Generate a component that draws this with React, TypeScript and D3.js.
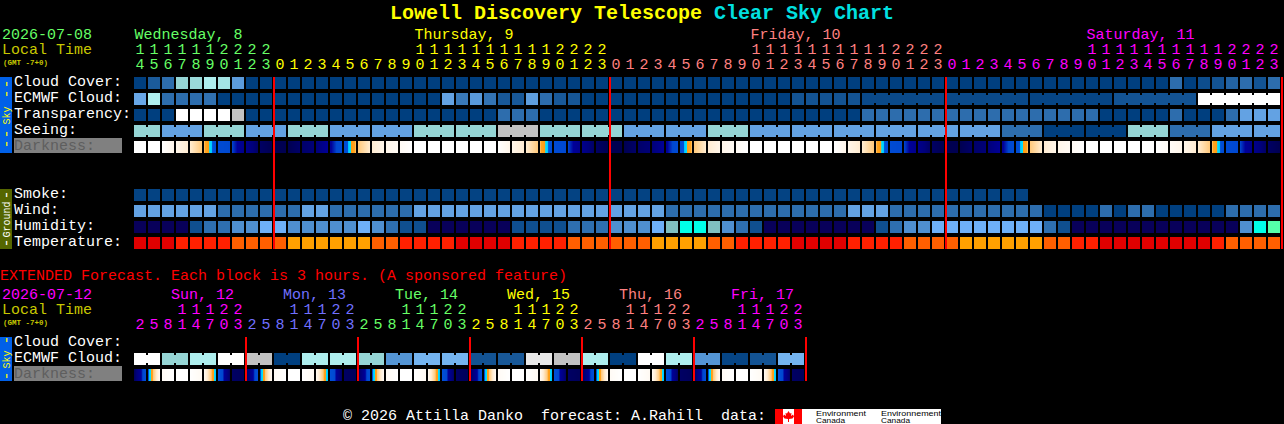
import {useEffect, useRef} from "react";
import * as d3 from "d3";

const MONO = "'Liberation Mono', monospace";

// cloud-style levels, 0 = clear ... 10 = overcast
const cloudCover = [0, 1.3, 2, 6, 6.2, 7, 6.6, 3.7, 0, 0, 0, 0, 0, 0, 0, 0, 0, 0, 0, 0, 0, 0, 0, 0, 0, 0, 0, 0, 0, 0, 0, 0, 0, 0, 0, 0, 0, 0, 0, 0, 0, 0, 0, 0, 0, 0, 0, 0, 0, 0, 0, 0, 0, 0, 0, 0, 0, 0, 0, 0, 0, 0, 0, 0, 0, 0, 0, 0, 0, 0, 0, 0, 0, 0, 2, 0, 0.7, 1, 1.6, 2, 1, 2];
const ecmwfHourly = [4.3, 7, 2, 2, 2, 2.1, 0, 0, 0, 0, 0, 0, 0, 0, 0, 0, 0, 0, 0, 0, 0, 0, 4, 2.4, 3.6, 2.2, 1.2, 1.2, 3.8, 2, 1.2, 1.1, 0, 0, 0, 0, 0, 0, 0, 0, 0, 0, 0, 0, 0, 0, 0, 1, 1, 1, 1, 1];
const ecmwfBlocks = [0.5, 0.5, 0.3, 1, 10];
const transparency = [0, 0, 0, 10, 10, 10, 10, 8, 0, 0, 0, 0, 0, 0, 0, 0, 0, 0, 0, 0, 0, 0, 0, 0, 0, 0, 2, 2, 2, 0, 0, 0, 0, 0, 0, 0, 0, 0, 0, 0, 0, 0, 0, 0, 0, 0, 0, 0, 0, 0, 0, 0, 2, 2, 2, 2, 2, 2, 2, 2, 2, 2, 2, 2, 2, 2, 2, 2, 2, 0, 0, 0, 0, 0, 2, 0, 0, 0, 2, 4, 4, 4];
const seeingSpans = [2, 3, 3, 3, 3, 3, 3, 3, 3, 3, 3, 3, 3, 3, 3, 3, 3, 3, 3, 3, 3, 3, 3, 3, 3, 3, 3, 2];
const seeingLevels = [6, 4, 6, 4, 6, 4, 4, 6, 6, 8, 6, 6, 4, 4, 6, 4, 4, 4, 4, 4, 4, 2, 0, 0, 6, 2, 4, 4];
const smoke = [0.2, 0.2, 0.2, 0.2, 0.2, 0.2, 0.2, 0.2, 0.2, 0.2, 0.2, 0.2, 0.2, 0.2, 0.2, 0.2, 0.2, 0.2, 0.2, 0.2, 0.2, 0.2, 0.2, 0.2, 0.2, 0.2, 0.2, 0.2, 0.2, 0.2, 0.2, 0.2, 0.2, 0.2, 0.2, 0.2, 0.2, 0.2, 0.2, 0.2, 0.2, 0.2, 0.2, 0.2, 0.2, 0.2, 0.2, 0.2, 0.2, 0.2, 0.2, 0.2, 0.2, 0.2, 0.2, 0.2, 0.2, 0.2, 0.2, 0.2, 0.2, 0.2, 0.2, 0.2];
const wind = [4, 4, 4, 4, 4, 4, 2, 2, 2, 2, 2, 2, 4, 4, 2, 2, 2, 2, 2, 2, 4, 4, 4, 4, 4, 4, 4, 4, 4, 4, 4, 4, 4, 4, 4, 4, 4, 4, 2, 2, 2, 2, 2, 2, 2, 2, 2, 2, 2, 2, 2, 4, 4, 4, 2, 2, 2, 2, 2, 2, 2, 2, 2, 2, 2, 0, 0, 0, 0, 2, 0, 2, 2, 0, 0, 0, 0, 0, 2, 2, 2, 2];
const humidity = [0, 0, 0, 0, 1, 2, 2, 3, 3, 4, 4, 3, 3, 3, 3, 3, 4, 3, 2, 1, 1, 0, 0, 0, 0, 0, 0, 1, 1, 1, 1, 2, 2, 2, 3, 3, 3, 4, 5, 6, 6, 5, 3, 2, 1, 0, 0, 0, 0, 0, 0, 0, 0, 1, 2, 3, 3, 4, 4, 4, 4, 4, 4, 4, 4, 2, 1, 0, 0, 0, 0, 0, 0, 0, 0, 0, 0, 0, 0, 3, 6, 7];
const temperature = [0, 0, 0, 1, 1, 1, 1, 2, 2, 2, 2, 3, 3, 3, 3, 3, 3, 2, 2, 1, 1, 1, 1, 0, 0, 0, 0, 1, 1, 1, 1, 2, 2, 2, 2, 2, 2, 3, 3, 3, 3, 2, 2, 1, 1, 1, 1, 0, 0, 0, 0, 1, 1, 1, 1, 2, 2, 2, 2, 3, 3, 3, 3, 3, 3, 2, 2, 1, 1, 0, 0, 0, 0, 0, 0, 0, 0, 1, 2, 2, 2, 2];
// limiting magnitude at the start of every hour, the last one closes the row
const darkness = [-4, -4, -4, -3, -2, -0.3, 2.5, 3, 3.9, 5, 5.4, 5.4, 4.9, 4.6, 3.5, 2.6, -0.3, -2, -3, -3.5, -4, -4, -4, -4, -4, -4, -4, -3, -2, -0.3, 2.5, 3, 3.9, 5, 5.4, 5.4, 4.9, 4.6, 3.5, 2.6, -0.3, -2, -3, -3.5, -4, -4, -4, -4, -4, -4, -4, -3, -2, -0.3, 2.5, 3, 3.9, 5, 5.4, 5.4, 4.9, 4.6, 3.5, 2.6, -0.3, -2, -3, -3.5, -4, -4, -4, -4, -4, -4, -3.6, -3, -2, -0.3, 2.5, 3, 3.9, 5, 5.4];

const extEcmwf = [10, 6, 7, 10, 8, 0, 7, 7, 6, 3.4, 5, 5, 1, 1.2, 9, 8, 7, 0, 10, 7, 3.4, 0.3, 1, 5];
const extDarkness = [5.2, 2.2, -3.5, -4, -4, -3.4, 1.7, 5, 5.2, 2.2, -3.5, -4, -4, -3.4, 1.7, 5, 5.2, 2.2, -3.5, -4, -4, -3.4, 1.7, 5, 5.2, 2.2, -3.5, -4, -4, -3.4, 1.7, 5, 5.2, 2.2, -3.5, -4, -4, -3.4, 1.7, 5, 5.2, 2.2, -3.5, -4, -4, -3.4, 1.7, 5, 5.2];

const mainHours = [14, 15, 16, 17, 18, 19, 20, 21, 22, 23, 0, 1, 2, 3, 4, 5, 6, 7, 8, 9, 10, 11, 12, 13, 14, 15, 16, 17, 18, 19, 20, 21, 22, 23, 0, 1, 2, 3, 4, 5, 6, 7, 8, 9, 10, 11, 12, 13, 14, 15, 16, 17, 18, 19, 20, 21, 22, 23, 0, 1, 2, 3, 4, 5, 6, 7, 8, 9, 10, 11, 12, 13, 14, 15, 16, 17, 18, 19, 20, 21, 22, 23];
const mainDays = ["Wednesday, 8", "Thursday, 9", "Friday, 10", "Saturday, 11"];
const mainDayCols = [0, 20, 44, 68];
const mainDayStart = [0, 10, 34, 58];
const mainDayColors = ["#66ff66", "#ffff00", "#ff8080", "#ff00ff"];
const extHours = [2, 5, 8, 11, 14, 17, 20, 23];
const extDays = ["Sun, 12", "Mon, 13", "Tue, 14", "Wed, 15", "Thu, 16", "Fri, 17"];
const extDayColors = ["#ff00ff", "#7070ff", "#66ff66", "#ffff00", "#ff8080", "#ff00ff"];

const cloudRange = ["#003f7f", "#135393", "#2d6dad", "#4a8ccc", "#63a2e3", "#74b4f0", "#95d5d5", "#aeeeee", "#c2c2c2", "#e8e8e8", "#ffffff"];
const humidityRange = ["#08005a", "#0f4f8f", "#2e6fb0", "#4f8fd0", "#6eb0f8", "#80c0c0", "#00ffe8", "#55ffaa"];
const temperatureRange = ["#e00000", "#ff2000", "#ff5f00", "#ffa000"];
const darkDomain = [-4, -3, -2, -0.3, 0, 0.9, 1, 1.5, 1.7, 3, 3.4, 4.5, 5.5];
const darkRange = ["#ffffff", "#fff6ea", "#ffecd2", "#ffc87a", "#ffa520", "#ff9a10", "#00e0ff", "#00c8ff", "#0050d8", "#0048d0", "#000098", "#00007c", "#00004c"];

const App = () => {
    const ref = useRef(null);

    useEffect(() => {
        document.body.style.margin = "0";
        document.body.style.background = "#000";

        const svg = d3.select(ref.current);
        svg.selectAll("*").remove();

        const cloudColor = d3.scaleLinear<string>().domain(d3.range(cloudRange.length)).range(cloudRange);
        const humColor = d3.scaleOrdinal<number, string>().domain(d3.range(humidityRange.length)).range(humidityRange);
        const tempColor = d3.scaleOrdinal<number, string>().domain(d3.range(temperatureRange.length)).range(temperatureRange);
        const darkColor = d3.scaleLinear<string>().domain(darkDomain).range(darkRange);

        const x = d3.scaleLinear().domain([0, 82]).range([134, 1282]);
        const xe = d3.scaleLinear().domain([0, 48]).range([134, 806]);

        const text = (t: string, px: number, py: number, fill: string, size = 15, weight = "normal", anchor = "start") =>
            svg.append("text")
                .attr("x", px)
                .attr("y", py)
                .attr("fill", fill)
                .attr("font-family", MONO)
                .attr("font-size", size)
                .attr("font-weight", weight)
                .attr("text-anchor", anchor)
                .attr("xml:space", "preserve")
                .style("white-space", "pre")
                .text(t);

        // one block is a run of cells held together by a short bridge in the gap
        function blocks(values: number[], spans: number[], scale: d3.ScaleLinear<number, number>, y: number, color: (v: number) => string) {
            const g = svg.append("g").attr("shape-rendering", "crispEdges");
            let col = 0;
            values.forEach((v, i) => {
                for (let k = 0; k < spans[i]; k++) {
                    g.append("rect").attr("x", scale(col + k)).attr("y", y).attr("width", 12).attr("height", 12).attr("fill", color(v));
                    if (k < spans[i] - 1) {
                        g.append("rect").attr("x", scale(col + k) + 12).attr("y", y + 2).attr("width", 2).attr("height", 8).attr("fill", color(v));
                    }
                }
                col += spans[i];
            });
        }
        const hourly = (values: number[], y: number, color: (v: number) => string) =>
            blocks(values, values.map(() => 1), x, y, color);

        function darknessRow(values: number[], scale: d3.ScaleLinear<number, number>, y: number) {
            const g = svg.append("g").attr("shape-rendering", "crispEdges");
            d3.pairs(values).forEach(([a, b], i) => {
                const mix = d3.interpolateNumber(a, b);
                d3.range(12).forEach((k) => {
                    g.append("rect").attr("x", scale(i) + k).attr("y", y).attr("width", 1).attr("height", 12).attr("fill", darkColor(mix((k + 0.5) / 12)));
                });
            });
        }

        function label(t: string, y: number) {
            text(t, 14, y + 9, "#ffffff");
        }
        function darkLabel(y: number) {
            svg.append("rect").attr("x", 14).attr("y", y - 3).attr("width", 108).attr("height", 15).attr("fill", "#808080");
            text("Darkness:", 14, y + 9, "#5e5e5e");
        }
        function sideBar(y0: number, y1: number, fill: string, color: string, word: string, dashes: number[]) {
            svg.append("rect").attr("x", 0).attr("y", y0).attr("width", 12).attr("height", y1 - y0).attr("fill", fill);
            const cy = (y0 + y1) / 2;
            const put = (t: string, py: number, size: number, bx: number) =>
                svg.append("text")
                    .attr("transform", `translate(${bx},${py}) rotate(-90)`)
                    .attr("text-anchor", "middle")
                    .attr("fill", color)
                    .attr("font-family", MONO)
                    .attr("font-size", size)
                    .text(t);
            put(word, cy + 0.5, 10, 9.5);
            dashes.forEach((d) => put("-", cy + d, 15, 11));
        }
        const redLines = (cols: number[], scale: d3.ScaleLinear<number, number>, y0: number, y1: number) =>
            svg.append("g").attr("shape-rendering", "crispEdges").selectAll("rect").data(cols).join("rect")
                .attr("x", (d) => scale(d) - 1).attr("y", y0).attr("width", 2).attr("height", y1 - y0).attr("fill", "#ff0000");

        // title
        text("Lowell Discovery Telescope", 390, 18.5, "#ffff00", 20, "bold");
        text("Clear Sky Chart", 714, 18.5, "#00e0e0", 20, "bold");

        // header of the hourly chart
        text("2026-07-08", 2, 39, "#66ff66");
        text("Local Time", 2, 54, "#c8c800");
        text("(GMT -7+0)", 3, 65, "#c8c800", 7.5, "bold");
        mainDays.forEach((d, i) => text(d, x(mainDayCols[i]) + 0.5, 39, mainDayColors[i]));
        mainHours.forEach((h, i) => {
            const color = mainDayColors[d3.bisectRight(mainDayStart, i) - 1];
            if (h >= 10) text(String(Math.floor(h / 10)), x(i) + 6, 54, color, 15, "normal", "middle");
            text(String(h % 10), x(i) + 6, 69, color, 15, "normal", "middle");
        });

        // sky rows
        sideBar(77, 153, "#0060e8", "#ffff00", "Sky", [-31, -21, 19, 29]);
        label("Cloud Cover:", 77);
        label("ECMWF Cloud:", 93);
        label("Transparency:", 109);
        label("Seeing:", 125);
        darkLabel(141);
        hourly(cloudCover, 77, cloudColor);
        blocks(ecmwfHourly.concat(ecmwfBlocks), ecmwfHourly.map(() => 1).concat(ecmwfBlocks.map(() => 6)), x, 93, cloudColor);
        hourly(transparency, 109, cloudColor);
        blocks(seeingLevels, seeingSpans, x, 125, cloudColor);
        darknessRow(darkness, x, 141);

        // ground rows
        sideBar(189, 249, "#556600", "#ffffff", "Ground", [-24, 24]);
        label("Smoke:", 189);
        label("Wind:", 205);
        label("Humidity:", 221);
        label("Temperature:", 237);
        hourly(smoke, 189, cloudColor);
        hourly(wind, 205, cloudColor);
        hourly(humidity, 221, humColor);
        hourly(temperature, 237, tempColor);

        redLines([10, 34, 58, 82], x, 77, 249);

        // extended forecast
        text("EXTENDED Forecast. Each block is 3 hours. (A sponsored feature)", 0, 280, "#ff0000");
        text("2026-07-12", 2, 299, "#ff00ff");
        text("Local Time", 2, 314, "#c8c800");
        text("(GMT -7+0)", 3, 325, "#c8c800", 7.5, "bold");
        extDays.forEach((d, i) => {
            text(d, xe(i * 8) + 37, 299, extDayColors[i]);
            extHours.forEach((h, k) => {
                const col = i * 8 + k;
                if (h >= 10) text(String(Math.floor(h / 10)), xe(col) + 6, 314, extDayColors[i], 15, "normal", "middle");
                text(String(h % 10), xe(col) + 6, 329, extDayColors[i], 15, "normal", "middle");
            });
        });
        sideBar(337, 381, "#0060e8", "#ffff00", "Sky", [-19, 17]);
        label("Cloud Cover:", 337);
        label("ECMWF Cloud:", 353);
        darkLabel(369);
        blocks(extEcmwf, extEcmwf.map(() => 2), xe, 353, cloudColor);
        darknessRow(extDarkness, xe, 369);
        redLines([8, 16, 24, 32, 40, 48], xe, 337, 381);

        // footer
        text("\u00a9 2026 Attilla Danko  forecast: A.Rahill  data:", 343, 419.5, "#ffffff");
        const logo = svg.append("g").attr("transform", "translate(775,409)");
        logo.append("rect").attr("width", 166).attr("height", 15).attr("fill", "#ffffff");
        logo.append("rect").attr("width", 8).attr("height", 15).attr("fill", "#ff0000");
        logo.append("rect").attr("x", 19).attr("width", 8).attr("height", 15).attr("fill", "#ff0000");
        logo.append("path")
            .attr("d", "M13.5 2 L15 4.5 L16.5 4 L16 7 L18 5.5 L19 7.5 L17.5 9.5 L14 10 L14 13 L13 13 L13 10 L9.5 9.5 L8 7.5 L9 5.5 L11 7 L10.5 4 L12 4.5 Z")
            .attr("fill", "#ff0000");
        const logoText = (t: string, px: number, py: number, w: number) =>
            logo.append("text").attr("x", px).attr("y", py).attr("fill", "#000000")
                .attr("font-family", "'Liberation Sans', sans-serif").attr("font-size", 8)
                .attr("textLength", w).attr("lengthAdjust", "spacingAndGlyphs").text(t);
        logoText("Environment", 41, 7, 50);
        logoText("Canada", 41, 14, 29);
        logoText("Environnement", 106, 7, 60);
        logoText("Canada", 106, 14, 29);
    }, []);

    return (
        <div style={{position: "absolute", left: 0, top: 0}}>
            <svg ref={ref} width={1284} height={424} style={{display: "block", background: "#000"}}></svg>
        </div>
    );
};

export default App;
